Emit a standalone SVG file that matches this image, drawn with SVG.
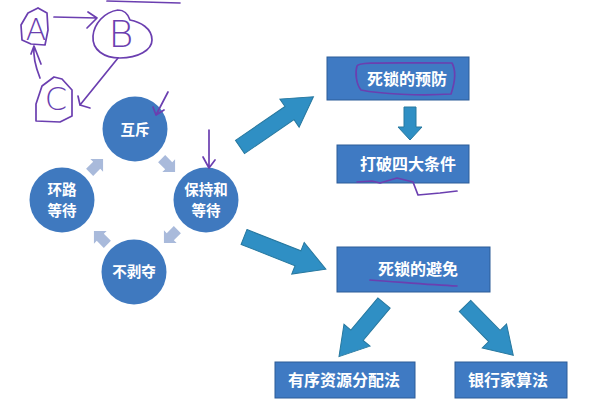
<svg xmlns="http://www.w3.org/2000/svg" width="609" height="409" viewBox="0 0 609 409">
<defs>
<style>
.circ{fill:#3f79bf;}
.ctext{fill:#fff;font-family:"Noto Sans CJK SC",sans-serif;font-size:14.5px;font-weight:bold;text-anchor:middle;}
.box{fill:#3f7ac3;stroke:#2c5c98;stroke-width:1;}
.btext{fill:#fff;font-family:"Noto Sans CJK SC",serif;font-size:16px;font-weight:bold;text-anchor:middle;}
.big{fill:#2f8fc4;stroke:#27789f;stroke-width:1;}
.small{fill:#a9badb;}
.pen{fill:none;stroke:#6b3fb0;stroke-width:1.7;stroke-linecap:round;stroke-linejoin:round;}
.hand{fill:#6b3fb0;font-family:"DejaVu Sans",sans-serif;font-weight:200;text-anchor:middle;}
</style>
<polygon id="chev" class="small" points="-9,-5 1,-5 1,-9 10,0 1,9 1,5 -9,5"/>
</defs>
<rect width="609" height="409" fill="#ffffff"/>

<g id="connectors">
  <use href="#chev" transform="translate(96,166) rotate(-45)"/>
  <use href="#chev" transform="translate(168,165) rotate(45)"/>
  <use href="#chev" transform="translate(171,236) rotate(135)"/>
  <use href="#chev" transform="translate(101,238) rotate(-135)"/>
  <g transform="translate(240,147) rotate(-34.4)"><polygon class="big" points="0,-8 60,-8 60,-17 89,0 60,17 60,8 0,8"/></g>
  <g transform="translate(244,237) rotate(21.5)"><polygon class="big" points="0,-8 58,-8 58,-17 88,0 58,17 58,8 0,8"/></g>
  <g transform="translate(410,107)"><polygon class="big" points="-6,0 6,0 6,20 12,20 0,33 -12,20 -6,20"/></g>
  <g transform="translate(384,303) rotate(130)"><polygon class="big" points="0,-8 42,-8 42,-17 70,0 42,17 42,8 0,8"/></g>
  <g transform="translate(465,306) rotate(45.6)"><polygon class="big" points="0,-8 42,-8 42,-17 69,0 42,17 42,8 0,8"/></g>
</g>

<g id="n-huchi"><circle class="circ" cx="135" cy="129" r="32.5"/><text class="ctext" x="135" y="135">互斥</text></g>
<g id="n-baochi"><circle class="circ" cx="206" cy="200" r="32.5"/><text class="ctext" x="206" y="195">保持和</text><text class="ctext" x="206" y="216">等待</text></g>
<g id="n-bubaduo"><circle class="circ" cx="134" cy="272" r="32.5"/><text class="ctext" x="134" y="277">不剥夺</text></g>
<g id="n-huanlu"><circle class="circ" cx="62" cy="200" r="32.5"/><text class="ctext" x="62" y="195">环路</text><text class="ctext" x="62" y="216">等待</text></g>

<g id="n-yufang"><rect class="box" x="327" y="57" width="142" height="43"/><text class="btext" x="407" y="85">死锁的预防</text></g>
<g id="n-dapo"><rect class="box" x="337" y="145" width="132" height="38"/><text class="btext" x="408" y="170">打破四大条件</text></g>
<g id="n-bimian"><rect class="box" x="337" y="247" width="153" height="45"/><text class="btext" x="418" y="275">死锁的避免</text></g>
<g id="n-youxu"><rect class="box" x="275" y="362" width="140" height="36"/><text class="btext" x="344" y="386">有序资源分配法</text></g>
<g id="n-yinhang"><rect class="box" x="455" y="362" width="112" height="36"/><text class="btext" x="508" y="386">银行家算法</text></g>

<g id="handwriting">
  <path class="pen" d="M107,1 L180,3"/>
  <path class="pen" d="M38,8 L28,13 L21,25 L22,40 L31,44 L45,45 L48,30 L47,13 L38,8"/>
  <text class="hand" x="36" y="40" font-size="30">A</text>
  <path class="pen" d="M54,17 L97,18 M88,12 L97,18 L87,28"/>
  <path class="pen" d="M118,10 C104,12 94,24 93,36 C92,50 104,58 120,58 C138,58 152,50 152,40 C152,28 140,22 130,20 C128,14 124,10 118,10"/>
  <text class="hand" x="121" y="47" font-size="38">B</text>
  <path class="pen" d="M118,58 L80,105 M78,96 L80,105 L90,108"/>
  <path class="pen" d="M54,77 L42,86 L36,104 L36,121 L60,122 L72,116 L72,90 L62,79 L54,77"/>
  <text class="hand" x="56" y="110" font-size="32">C</text>
  <path class="pen" d="M40,78 C36,68 33,56 34,46 M31,54 L34,46 L41,64"/>
  <path class="pen" d="M168,92 L156,115 M153,107 L156,115 L164,110"/>
  <path class="pen" d="M209,130 L209,168 M203,157 L209,168 L215,160"/>
  <path class="pen" d="M357,66 C358,62 380,63 452,63 C456,70 455,82 451,94 C420,96 380,94 361,90 C356,84 355,72 357,66"/>
  <path class="pen" d="M357,182 L372,181 L380,183 L397,178 L413,182 L418,195 L440,193 L457,191"/>
  <path class="pen" d="M370,280 C400,282 430,285 457,286"/>
</g>
</svg>
